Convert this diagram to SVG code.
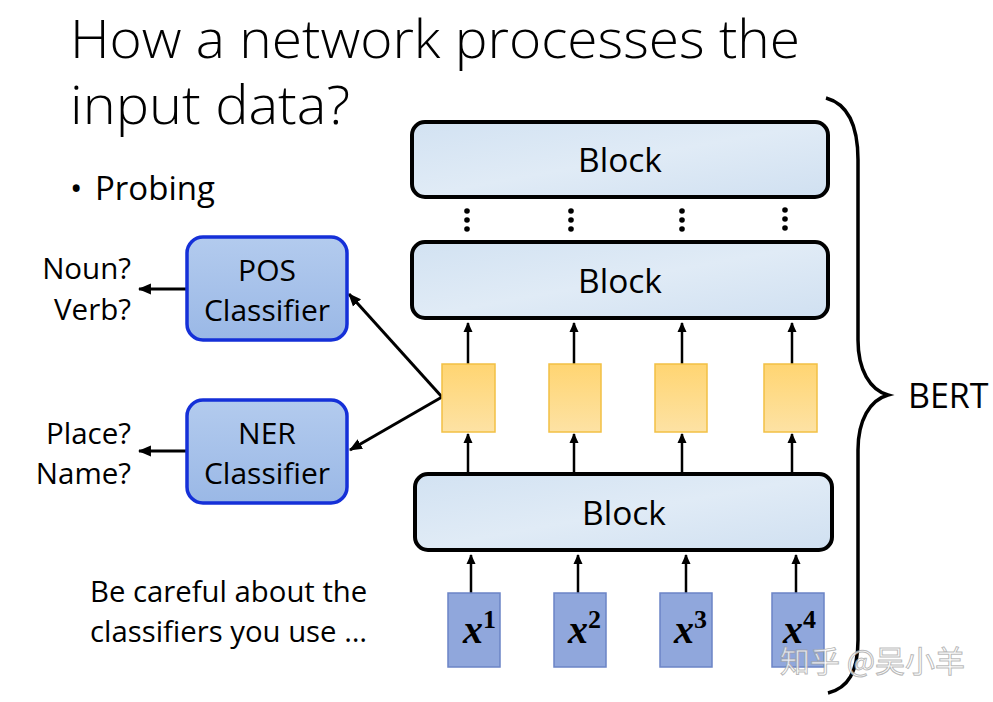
<svg xmlns="http://www.w3.org/2000/svg" width="993" height="702" viewBox="0 0 993 702">
<defs>
<style>
.t{font-family:"Open Sans","Liberation Sans",sans-serif;fill:#000}
.blk{fill:url(#gBlk);stroke:#000;stroke-width:4}
.cls{fill:url(#gCls);stroke:#1530d8;stroke-width:3.5}
.yel{fill:url(#gYel);stroke:#f2c044;stroke-width:1.5}
.inp{fill:#90a7dc;stroke:#6b84c6;stroke-width:1.5}
.ar{stroke:#000;stroke-width:2.5;fill:none;marker-end:url(#ah)}
.ar2{stroke:#000;stroke-width:3;fill:none;marker-end:url(#ah2)}
.xv{font-family:"Liberation Serif",serif;font-weight:bold;font-style:italic;font-size:40px}
.xs{font-family:"Liberation Serif",serif;font-weight:bold;font-size:26px}
</style>
<linearGradient id="gBlk" x1="0" y1="0" x2="1" y2="1">
<stop offset="0" stop-color="#d2e2f2"/><stop offset="0.5" stop-color="#e0ebf6"/><stop offset="1" stop-color="#d0e0f1"/>
</linearGradient>
<linearGradient id="gCls" x1="0" y1="0" x2="0" y2="1">
<stop offset="0" stop-color="#b3cbee"/><stop offset="1" stop-color="#9ab8e6"/>
</linearGradient>
<linearGradient id="gYel" x1="0" y1="0" x2="0" y2="1">
<stop offset="0" stop-color="#ffd572"/><stop offset="1" stop-color="#fde2a4"/>
</linearGradient>
<marker id="ah" viewBox="0 0 10 10" refX="9" refY="5" markerWidth="10" markerHeight="10" markerUnits="userSpaceOnUse" orient="auto">
<path d="M0,0.5 L10,5 L0,9.5 Z" fill="#000"/>
</marker>
<marker id="ah2" viewBox="0 0 12 12" refX="11" refY="6" markerWidth="13" markerHeight="13" markerUnits="userSpaceOnUse" orient="auto">
<path d="M0,1 L12,6 L0,11 Z" fill="#000"/>
</marker>
</defs>
<rect width="993" height="702" fill="#fff"/>

<g id="title">
<text class="t" x="70" y="58" font-size="53" font-weight="300" textLength="730" lengthAdjust="spacingAndGlyphs">How a network processes the</text>
<text class="t" x="70" y="124" font-size="53" font-weight="300" textLength="280" lengthAdjust="spacingAndGlyphs">input data?</text>
<text class="t" x="70" y="200" font-size="33">•</text>
<text class="t" x="95" y="200" font-size="33">Probing</text>
</g>

<g id="connectors">
<line class="ar" x1="468" y1="364" x2="468" y2="323"/>
<line class="ar" x1="574" y1="364" x2="574" y2="323"/>
<line class="ar" x1="682" y1="364" x2="682" y2="323"/>
<line class="ar" x1="792" y1="364" x2="792" y2="323"/>
<line class="ar" x1="468" y1="474" x2="468" y2="434"/>
<line class="ar" x1="574" y1="474" x2="574" y2="434"/>
<line class="ar" x1="682" y1="474" x2="682" y2="434"/>
<line class="ar" x1="792" y1="474" x2="792" y2="434"/>
<line class="ar" x1="471" y1="593" x2="471" y2="555"/>
<line class="ar" x1="578" y1="593" x2="578" y2="555"/>
<line class="ar" x1="686" y1="593" x2="686" y2="555"/>
<line class="ar" x1="796" y1="593" x2="796" y2="555"/>
<polyline class="ar2" points="442,397 349,294"/>
<polyline class="ar2" points="442,397 350,450"/>
<line class="ar2" x1="187" y1="289" x2="139" y2="289"/>
<line class="ar2" x1="187" y1="451" x2="139" y2="451"/>
</g>

<g id="block-top">
<rect class="blk" x="412" y="122" width="416" height="75" rx="13"/>
<text class="t" x="620" y="172" font-size="33.5" text-anchor="middle">Block</text>
</g>
<g id="dots" fill="#000">
<circle cx="467" cy="211" r="2.8"/><circle cx="467" cy="220" r="2.8"/><circle cx="467" cy="229" r="2.8"/>
<circle cx="571" cy="211" r="2.8"/><circle cx="571" cy="220" r="2.8"/><circle cx="571" cy="229" r="2.8"/>
<circle cx="682" cy="211" r="2.8"/><circle cx="682" cy="220" r="2.8"/><circle cx="682" cy="229" r="2.8"/>
<circle cx="785" cy="210" r="2.8"/><circle cx="785" cy="219" r="2.8"/><circle cx="785" cy="228" r="2.8"/>
</g>
<g id="block-mid">
<rect class="blk" x="412" y="242" width="416" height="76" rx="13"/>
<text class="t" x="620" y="293" font-size="33.5" text-anchor="middle">Block</text>
</g>
<g id="block-bottom">
<rect class="blk" x="415" y="474" width="417" height="76" rx="13"/>
<text class="t" x="624" y="525" font-size="33.5" text-anchor="middle">Block</text>
</g>

<g id="emb1"><rect class="yel" x="442" y="364" width="53" height="68"/></g>
<g id="emb2"><rect class="yel" x="549" y="364" width="52" height="68"/></g>
<g id="emb3"><rect class="yel" x="655" y="364" width="52" height="68"/></g>
<g id="emb4"><rect class="yel" x="764" y="364" width="53" height="68"/></g>

<g id="x1"><rect class="inp" x="448" y="593" width="52" height="74"/>
<text x="463" y="643"><tspan class="xv">x</tspan><tspan class="xs" dy="-15">1</tspan></text></g>
<g id="x2"><rect class="inp" x="554" y="593" width="52" height="74"/>
<text x="568" y="643"><tspan class="xv">x</tspan><tspan class="xs" dy="-15">2</tspan></text></g>
<g id="x3"><rect class="inp" x="660" y="593" width="52" height="74"/>
<text x="674" y="643"><tspan class="xv">x</tspan><tspan class="xs" dy="-15">3</tspan></text></g>
<g id="x4"><rect class="inp" x="772" y="593" width="52" height="74"/>
<text x="783" y="643"><tspan class="xv">x</tspan><tspan class="xs" dy="-15">4</tspan></text></g>

<g id="pos">
<rect class="cls" x="187" y="237" width="160" height="103" rx="16"/>
<text class="t" x="267" y="281" font-size="30" text-anchor="middle">POS</text>
<text class="t" x="267" y="321" font-size="30" text-anchor="middle">Classifier</text>
</g>
<g id="ner">
<rect class="cls" x="187" y="400" width="160" height="103" rx="16"/>
<text class="t" x="267" y="444" font-size="30" text-anchor="middle">NER</text>
<text class="t" x="267" y="484" font-size="30" text-anchor="middle">Classifier</text>
</g>

<g id="pos-out">
<text class="t" x="131" y="279" font-size="29.5" text-anchor="end">Noun?</text>
<text class="t" x="131" y="320" font-size="29.5" text-anchor="end">Verb?</text>
</g>
<g id="ner-out">
<text class="t" x="131" y="444" font-size="29.5" text-anchor="end">Place?</text>
<text class="t" x="131" y="484" font-size="29.5" text-anchor="end">Name?</text>
</g>

<g id="note">
<text class="t" x="90" y="602" font-size="29.3">Be careful about the</text>
<text class="t" x="90" y="642" font-size="29.3">classifiers you use …</text>
</g>

<g id="bert">
<path d="M826,98 C848,104 858,125 858,160 L858,340 C858,370 870,390 888,395 C870,400 858,420 858,450 L858,640 C858,672 848,688 828,693" fill="none" stroke="#000" stroke-width="3.5"/>
<text class="t" x="908" y="408" font-size="34">BERT</text>
</g>

<g id="watermark">
<text x="780" y="672" font-family="'Noto Sans CJK SC',sans-serif" font-size="30" fill="#ffffff" fill-opacity="0.8" stroke="#9a9a9a" stroke-width="1" stroke-opacity="0.7">知乎 @吴小羊</text>
</g>
</svg>
